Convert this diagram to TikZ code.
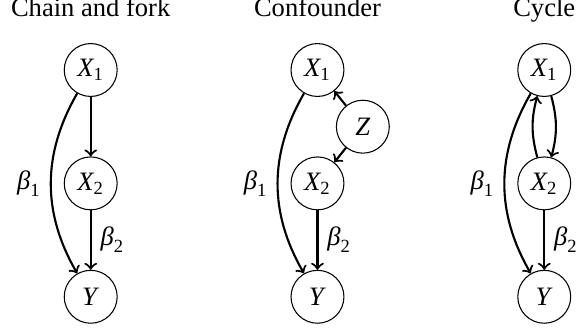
\documentclass[tikz,border=0pt]{standalone}
\usepackage{amstext}
\usepackage{fontspec}
\setmainfont{Liberation Serif}
% italic letter with upright subscript, all in the text font
\newcommand{\lab}[2]{$\textit{#1}_{\textrm{#2}}$}
\tikzset{var/.style={draw,circle,minimum size=0.7cm,inner sep=0pt},
  edge/.style={->,thick}}
\begin{document}
\begin{tikzpicture}
\useasboundingbox (-1.2,-3.466) rectangle (6.42,0.926);
% chain and fork
\node[anchor=base] (ta) at (0,0.714) {Chain and fork};
\node[var] (x1a) at (0,0) {\lab{X}{1}};
\node[var] (x2a) at (0,-1.5) {\lab{X}{2}};
\node[var] (ya) at (0,-3) {\textit{Y}};
\draw[edge] (x1a) -- (x2a);
\draw[edge] (x2a) -- node[right] {\lab{β}{2}} (ya);
\draw[edge] (x1a) to[bend right=30] node[left] {\lab{β}{1}} (ya);
% confounder
\node[anchor=base] (tb) at (3,0.714) {Confounder};
\node[var] (x1b) at (3,0) {\lab{X}{1}};
\node[var] (zb) at (3.6,-0.75) {\textit{Z}};
\node[var] (x2b) at (3,-1.5) {\lab{X}{2}};
\node[var] (yb) at (3,-3) {\textit{Y}};
\draw[edge] (zb) -- (x1b);
\draw[edge] (zb) -- (x2b);
\draw[edge] (x2b) -- node[right] {\lab{β}{2}} (yb);
\draw[edge] (x1b) to[bend right=30] node[left] {\lab{β}{1}} (yb);
% cycle
\node[anchor=base] (tc) at (6,0.714) {Cycle};
\node[var] (x1c) at (6,0) {\lab{X}{1}};
\node[var] (x2c) at (6,-1.5) {\lab{X}{2}};
\node[var] (yc) at (6,-3) {\textit{Y}};
\draw[edge] (x1c) to[bend left=15] (x2c);
\draw[edge] (x2c) to[bend left=15] (x1c);
\draw[edge] (x2c) -- node[right] {\lab{β}{2}} (yc);
\draw[edge] (x1c) to[bend right=30] node[left] {\lab{β}{1}} (yc);
\end{tikzpicture}
\end{document}
